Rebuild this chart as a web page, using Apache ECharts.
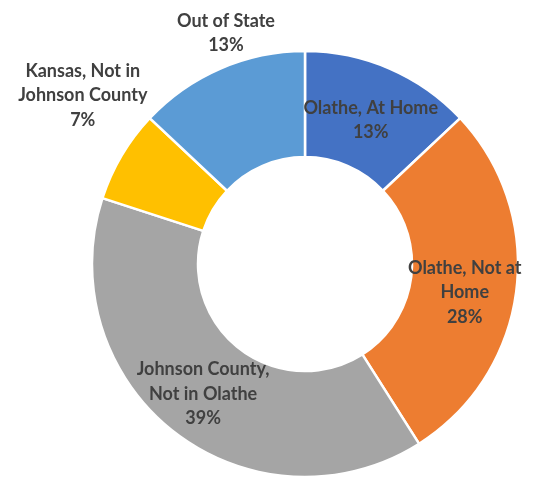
<!DOCTYPE html>
<html>
<head>
<meta charset="utf-8">
<script src="https://cdn.jsdelivr.net/npm/echarts@6/dist/echarts.min.js"></script>
<style>
  html, body { margin: 0; padding: 0; background: #ffffff; }
  #chart { width: 537px; height: 477px; }
</style>
</head>
<body>
<div id="chart"></div>
<script>
// Where respondents are located (share of total, %)
const categories = [
  'Olathe, At Home',
  'Olathe, Not at\nHome',
  'Johnson County,\nNot in Olathe',
  'Kansas, Not in\nJohnson County',
  'Out of State'
];
const shares = [13, 28, 39, 7, 13];
const colors = ['#4472C4', '#ED7D31', '#A5A5A5', '#FFC000', '#5B9BD5'];

// Ring geometry (pixels)
const CX = 305, CY = 264;

// Labels that sit outside the ring: polar offset from the ring centre
// (distance in px, angle in degrees counter-clockwise from +x)
const outsideLabel = {
  3: { dist: 279, angle: 142.8 },
  4: { dist: 244, angle: 108.9 }
};
// Small nudges for labels drawn inside the ring
const insideNudge = { 0: { dx: 1, dy: 6 }, 1: { dx: -2, dy: 8 }, 2: { dx: -2, dy: 1 } };

const chart = echarts.init(document.getElementById('chart'), null, { renderer: 'canvas' });

chart.setOption({
  animation: false,
  backgroundColor: '#ffffff',
  series: [{
    type: 'pie',
    center: [CX, CY],
    radius: [107, 213],
    startAngle: 90,
    clockwise: true,
    avoidLabelOverlap: false,
    itemStyle: { borderColor: '#ffffff', borderWidth: 2.5 },
    label: {
      show: true,
      position: 'inside',
      formatter: p => p.name + '\n' + p.value + '%',
      color: '#404040',
      fontFamily: 'Lato',
      fontWeight: 'bold',
      fontSize: 18,
      lineHeight: 24.5,
      align: 'center'
    },
    labelLine: { show: false },
    emphasis: { disabled: true },
    labelLayout: p => {
      const o = outsideLabel[p.dataIndex];
      if (!o) return insideNudge[p.dataIndex] || {};
      const a = o.angle * Math.PI / 180;
      return {
        x: CX + o.dist * Math.cos(a),
        y: CY - o.dist * Math.sin(a),
        align: 'center',
        verticalAlign: 'middle'
      };
    },
    data: categories.map((name, i) => ({
      name,
      value: shares[i],
      itemStyle: { color: colors[i] }
    }))
  }]
});
</script>
</body>
</html>
